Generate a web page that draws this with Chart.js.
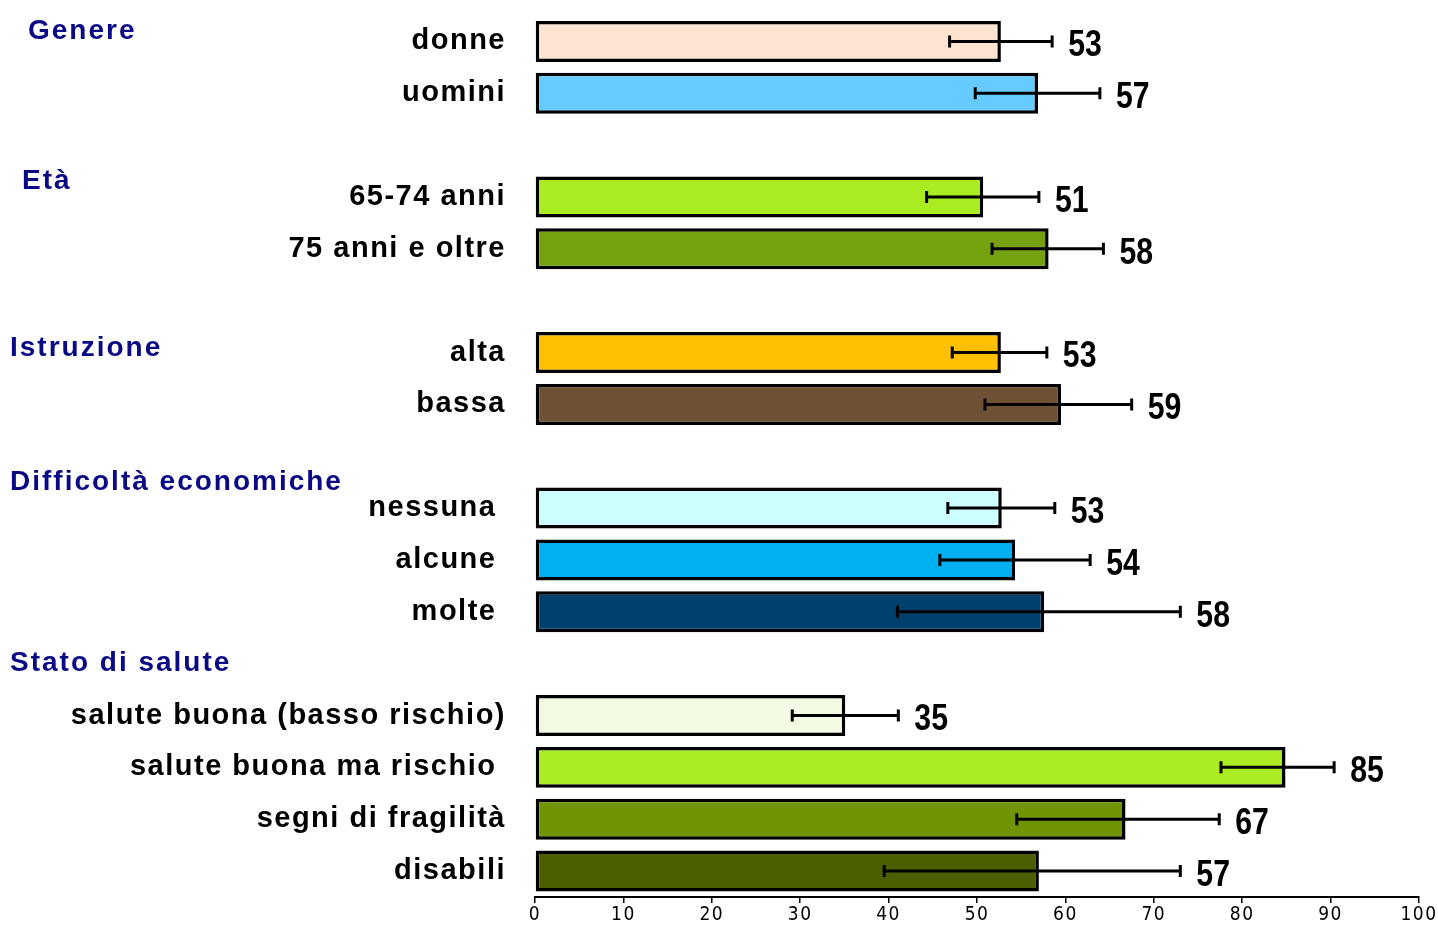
<!DOCTYPE html>
<html>
<head>
<meta charset="utf-8">
<script src="https://cdn.jsdelivr.net/npm/chart.js@4.4.1/dist/chart.umd.min.js"></script>
<style>
    html, body { margin: 0; padding: 0; background: #fff; }
</style>
</head>
<body>
<canvas id="grafico" width="1438" height="928"></canvas>
<script>
// categorie (le righe vuote separano i gruppi)
const categorie = ['donne', 'uomini', '', '65-74 anni', '75 anni e oltre', '', 'alta', 'bassa', '',
    'nessuna ', 'alcune ', 'molte ', '', 'salute buona (basso rischio)', 'salute buona ma rischio ',
    'segni di fragilità', 'disabili'];
const valori = [52.7, 56.9, null, 50.7, 58.1, null, 52.7, 59.5, null, 52.8, 54.3, 57.6, null, 35.1, 84.9, 66.8, 57.0];
const erroreMin = [46.9, 49.8, null, 44.3, 51.7, null, 47.2, 50.9, null, 46.7, 45.8, 41.0, null, 29.1, 77.6, 54.5, 39.5];
const erroreMax = [58.5, 63.9, null, 57.0, 64.3, null, 57.9, 67.5, null, 58.8, 62.8, 73.0, null, 41.1, 90.4, 77.4, 73.0];
const etichette = ['53', '57', '', '51', '58', '', '53', '59', '', '53', '54', '58', '', '35', '85', '67', '57'];
const colori = ['#FCE4D0', '#66CCFF', null, '#ABEB22', '#76A212', null, '#FFC000', '#6E5034', null,
    '#CCFFFF', '#00B0F0', '#00406F', null, '#F3FAE3', '#ABEB22', '#6F9404', '#4B5F00'];
const gruppi = ['Genere', 'Età', 'Istruzione', 'Difficoltà economiche', 'Stato di salute'];
const tickAsseX = [0, 10, 20, 30, 40, 50, 60, 70, 80, 90, 100];

// barre di errore + etichette dei valori
const pluginErrori = {
    id: 'errori',
    beforeDraw(chart) {
        chart.ctx.letterSpacing = '1.5px';
    },
    afterDatasetsDraw(chart) {
        const ctx = chart.ctx;
        const x = chart.scales.x;
        const meta = chart.getDatasetMeta(0);
        ctx.save();
        ctx.letterSpacing = '0px';
        ctx.strokeStyle = '#000';
        ctx.lineWidth = 3;
        meta.data.forEach((barra, i) => {
            if (valori[i] === null) return;
            const y = barra.y;
            const x1 = x.getPixelForValue(erroreMin[i]);
            const x2 = x.getPixelForValue(erroreMax[i]);
            ctx.beginPath();
            ctx.moveTo(x1, y);
            ctx.lineTo(x2, y);
            ctx.moveTo(x1, y - 6);
            ctx.lineTo(x1, y + 6);
            ctx.moveTo(x2, y - 6);
            ctx.lineTo(x2, y + 6);
            ctx.stroke();

            // cifre strette come nell'originale
            ctx.save();
            ctx.translate(x2 + 16, y + 5);
            ctx.scale(0.84, 1);
            ctx.fillStyle = '#000';
            ctx.font = "bold 36px 'Liberation Sans', Arial, sans-serif";
            ctx.textAlign = 'left';
            ctx.textBaseline = 'middle';
            ctx.fillText(etichette[i], 0, 0);
            ctx.restore();
        });
        ctx.restore();
    },
    afterDraw(chart) {
        // titoli dei gruppi a sinistra
        const ctx = chart.ctx;
        const y = chart.scales.y;
        const posizioni = [-0.2, 2.7, 5.92, 8.5, 12];
        const rientri = [28, 22, 10, 10, 10];
        ctx.save();
        ctx.letterSpacing = '2px';
        ctx.fillStyle = '#0A0A85';
        ctx.font = "bold 28px 'Liberation Sans', Arial, sans-serif";
        ctx.textAlign = 'left';
        ctx.textBaseline = 'middle';
        gruppi.forEach((g, i) => {
            ctx.fillText(g, rientri[i], y.getPixelForValue(posizioni[i]));
        });
        ctx.restore();
    },
};

const ctxGrafico = document.getElementById('grafico').getContext('2d');
new Chart(ctxGrafico, {
    type: 'bar',
    data: {
        labels: categorie,
        datasets: [{
            data: valori,
            backgroundColor: colori,
            borderColor: '#000',
            borderWidth: 3.5,
            borderSkipped: false,
            barPercentage: 0.79,
            categoryPercentage: 1,
        }],
    },
    options: {
        indexAxis: 'y',
        responsive: false,
        animation: false,
        layout: { padding: { top: 0, right: 19, left: 0, bottom: 0 } },
        plugins: {
            legend: { display: false },
            tooltip: { enabled: false },
        },
        scales: {
            x: {
                min: 0,
                max: 100,
                afterBuildTicks: (scale) => {
                    scale.ticks = tickAsseX.map(v => ({ value: v }));
                },
                afterFit: (scale) => { scale.height = 31; },
                grid: { display: true, drawOnChartArea: false, drawTicks: true, tickLength: 6, color: '#000', lineWidth: 1.5 },
                border: { display: true, color: '#000', width: 2 },
                ticks: {
                    color: '#000',
                    padding: 1,
                    maxRotation: 0,
                    font: { family: "'Liberation Sans Narrow', 'DejaVu Sans Condensed', sans-serif", size: 19 },
                },
            },
            y: {
                afterFit: (scale) => { scale.width = 535; },
                grid: { display: false, drawTicks: true, tickLength: 28 },
                border: { display: false },
                ticks: {
                    color: '#000',
                    padding: 1,
                    autoSkip: false,
                    font: { family: "'Liberation Sans', Arial, sans-serif", size: 29, weight: 'bold', lineHeight: 1 },
                },
            },
        },
    },
    plugins: [pluginErrori],
});
</script>
</body>
</html>
